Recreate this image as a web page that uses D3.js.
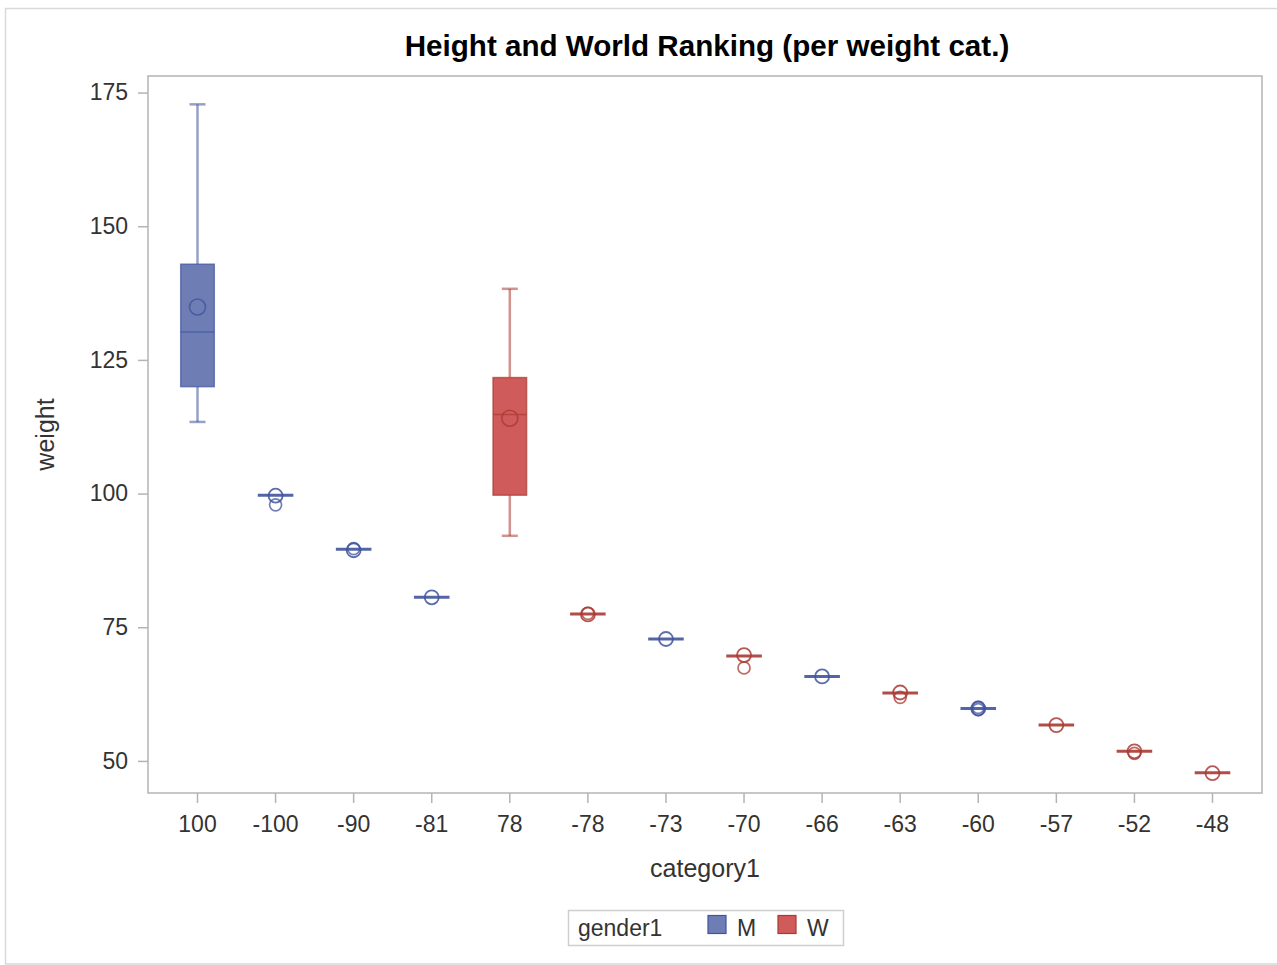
<!DOCTYPE html>
<html>
<head>
<meta charset="utf-8">
<script src="https://cdn.jsdelivr.net/npm/d3@7"></script>
<style>
  html, body { margin: 0; padding: 0; background: #fff; }
  svg { display: block; }
</style>
</head>
<body>
<svg id="chart" width="1277" height="965"></svg>
<script>
// ---- data ----
const categories = ["100","-100","-90","-81","78","-78","-73","-70","-66","-63","-60","-57","-52","-48"];
const genders    = ["M","M","M","M","W","W","M","W","M","W","M","W","W","W"];
const q1         = [120.0, 99.7, 89.6, 80.6, 99.7, 77.5, 72.8, 69.6, 65.8, 62.7, 59.8, 56.7, 51.8, 47.8];
const medians    = [130.2, 99.7, 89.6, 80.6, 114.8, 77.5, 72.8, 69.6, 65.8, 62.7, 59.8, 56.7, 51.8, 47.8];
const q3         = [142.9, 99.7, 89.6, 80.6, 121.7, 77.5, 72.8, 69.6, 65.8, 62.7, 59.8, 56.7, 51.8, 47.8];
const whiskerLow = [113.4, 99.7, 89.6, 80.6, 92.1, 77.5, 72.8, 69.6, 65.8, 62.7, 59.8, 56.7, 51.8, 47.8];
const whiskerHigh= [172.8, 99.7, 89.6, 80.6, 138.3, 77.5, 72.8, 69.6, 65.8, 62.7, 59.8, 56.7, 51.8, 47.8];
const means      = [134.9, 99.6, 89.4, 80.6, 114.1, 77.4, 72.8, 69.8, 65.8, 62.8, 59.8, 56.7, 51.8, 47.7];
const outliers   = [[], [97.9], [89.7], [], [], [77.6], [], [67.4], [], [61.9], [59.6, 60.0], [], [51.4], []];
const yTicks     = [50, 75, 100, 125, 150, 175];
const legendKeys = ["M", "W"];

const fillColor     = { M: "#6e7eb5", W: "#d05b5b" };
const contrastColor = { M: "#40549c", W: "#a93a32" };

// ---- layout ----
const svg = d3.select("#chart");
const plot = { left: 148, top: 76, right: 1262, bottom: 793 };
const font = "'Liberation Sans', Arial, sans-serif";

// outer border
svg.append("rect").attr("x", 5.5).attr("y", 8.5).attr("width", 1290).attr("height", 955.5)
  .attr("fill", "none").attr("stroke", "#d9d9d9").attr("stroke-width", 1.5);

const x = d3.scaleBand().domain(categories).range([plot.left, plot.right])
  .paddingInner(0).paddingOuter(0.134);
const y = d3.scaleLinear().domain([44.0, 178.1]).range([plot.bottom, plot.top]);

// frame
svg.append("rect").attr("x", plot.left).attr("y", plot.top)
  .attr("width", plot.right - plot.left).attr("height", plot.bottom - plot.top)
  .attr("fill", "none").attr("stroke", "#b4b4b4").attr("stroke-width", 1.5);

// y axis
const yAxis = svg.append("g").attr("transform", `translate(${plot.left},0)`)
  .call(d3.axisLeft(y).tickValues(yTicks).tickSize(10).tickPadding(10));
yAxis.select(".domain").remove();
yAxis.selectAll("line").attr("stroke", "#b4b4b4").attr("stroke-width", 1.5);
yAxis.selectAll("text").attr("font-family", font).attr("font-size", 23).attr("fill", "#333");

// x axis
const xAxis = svg.append("g").attr("transform", `translate(0,${plot.bottom})`)
  .call(d3.axisBottom(x).tickSize(10).tickPadding(13));
xAxis.select(".domain").remove();
xAxis.selectAll("line").attr("stroke", "#b4b4b4").attr("stroke-width", 1.5);
xAxis.selectAll("text").attr("font-family", font).attr("font-size", 23).attr("fill", "#333");

// axis labels
svg.append("text").attr("x", (plot.left + plot.right) / 2).attr("y", 877)
  .attr("text-anchor", "middle").attr("font-family", font).attr("font-size", 25)
  .attr("fill", "#333").text("category1");
svg.append("text").attr("transform", `translate(54,${(plot.top + plot.bottom) / 2}) rotate(-90)`)
  .attr("text-anchor", "middle").attr("font-family", font).attr("font-size", 25)
  .attr("fill", "#333").text("weight");

// title
svg.append("text").attr("x", 707).attr("y", 56).attr("text-anchor", "middle")
  .attr("font-family", font).attr("font-size", 29.6).attr("font-weight", "bold")
  .attr("fill", "#000").text("Height and World Ranking (per weight cat.)");

// boxes
const boxW = x.bandwidth() * 0.43;
const capW = 16;
const g = svg.append("g");
categories.forEach((c, i) => {
  const cx = x(c) + x.bandwidth() / 2;
  const gd = genders[i];
  const col = contrastColor[gd];
  const collapsed = q1[i] === q3[i];
  // whiskers
  if (!collapsed) {
    [[whiskerHigh[i], q3[i]], [whiskerLow[i], q1[i]]].forEach(([w, q]) => {
      g.append("line").attr("x1", cx).attr("x2", cx).attr("y1", y(w)).attr("y2", y(q))
        .attr("stroke", col).attr("stroke-opacity", 0.55).attr("stroke-width", 2.5);
      g.append("line").attr("x1", cx - capW / 2).attr("x2", cx + capW / 2).attr("y1", y(w)).attr("y2", y(w))
        .attr("stroke", col).attr("stroke-opacity", 0.55).attr("stroke-width", 2.5);
    });
    g.append("rect").attr("x", cx - boxW / 2).attr("y", y(q3[i]))
      .attr("width", boxW).attr("height", y(q1[i]) - y(q3[i]))
      .attr("fill", fillColor[gd]).attr("stroke", col).attr("stroke-opacity", 0.7).attr("stroke-width", 1.5);
    g.append("line").attr("x1", cx - boxW / 2).attr("x2", cx + boxW / 2)
      .attr("y1", y(medians[i])).attr("y2", y(medians[i]))
      .attr("stroke", col).attr("stroke-opacity", 0.7).attr("stroke-width", 1.5);
    g.append("circle").attr("cx", cx).attr("cy", y(means[i])).attr("r", 8)
      .attr("fill", "none").attr("stroke", col).attr("stroke-opacity", 0.8).attr("stroke-width", 1.6);
  } else {
    g.append("line").attr("x1", cx - boxW / 2 - 1).attr("x2", cx + boxW / 2 + 1)
      .attr("y1", y(medians[i])).attr("y2", y(medians[i]))
      .attr("stroke", col).attr("stroke-opacity", 0.9).attr("stroke-width", 3);
    g.append("circle").attr("cx", cx).attr("cy", y(means[i])).attr("r", 7)
      .attr("fill", "none").attr("stroke", col).attr("stroke-opacity", 0.85).attr("stroke-width", 1.8);
  }
  outliers[i].forEach(v => {
    g.append("circle").attr("cx", cx).attr("cy", y(v)).attr("r", 6)
      .attr("fill", "none").attr("stroke", col).attr("stroke-opacity", 0.75).attr("stroke-width", 1.7);
  });
});

// legend
const lg = svg.append("g");
lg.append("rect").attr("x", 568.5).attr("y", 910.5).attr("width", 275).attr("height", 35)
  .attr("fill", "#fff").attr("stroke", "#cfcfcf").attr("stroke-width", 1.5);
lg.append("text").attr("x", 578).attr("y", 936).attr("font-family", font).attr("font-size", 23)
  .attr("fill", "#333").text("gender1");
const legendX = { M: 708, W: 778 };
legendKeys.forEach(k => {
  lg.append("rect").attr("x", legendX[k]).attr("y", 915.5).attr("width", 18).attr("height", 18)
    .attr("fill", fillColor[k]).attr("stroke", contrastColor[k]).attr("stroke-width", 1.2);
  lg.append("text").attr("x", legendX[k] + 29).attr("y", 936).attr("font-family", font)
    .attr("font-size", 23).attr("fill", "#333").text(k);
});
</script>
</body>
</html>
